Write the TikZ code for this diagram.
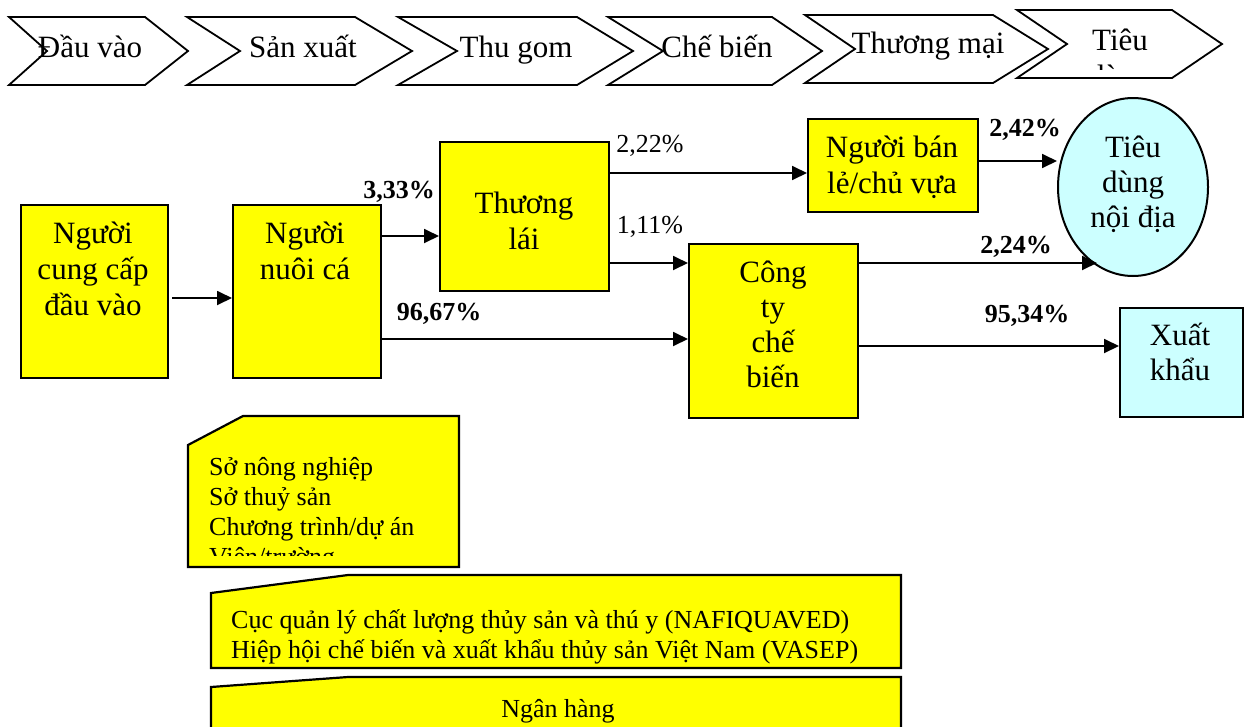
\documentclass[tikz,border=0pt]{standalone}
\usepackage{fontspec}
\setmainfont{Liberation Serif}
\usetikzlibrary{arrows.meta,shapes.geometric}
\definecolor{boxyellow}{HTML}{FFFF00}
\definecolor{paleaqua}{HTML}{CCFFFF}
% centred and left-aligned stacks of lines; the stack's baseline is its first line
\newcommand{\stacklines}[1]{\vtop{\halign{\hfil##\hfil\cr#1\crcr}}}
\newcommand{\leftlines}[1]{\vtop{\halign{##\hfil\cr#1\crcr}}}
\begin{document}
\begin{tikzpicture}[x=1pt,y=-1pt,
  chev/.style={draw, line width=1.8pt, line join=miter},
  ybox/.style={draw, line width=2.2pt, fill=boxyellow, inner sep=0pt, anchor=north west},
  bigtxt/.style={font=\fontsize{31}{36}\selectfont, inner sep=0pt, anchor=base},
  pct/.style={font=\fontsize{26}{30}\selectfont, inner sep=0pt, anchor=base},
  bpct/.style={font=\fontsize{26}{30}\selectfont\bfseries, inner sep=0pt, anchor=base},
  notetxt/.style={font=\fontsize{26}{30}\selectfont, inner sep=0pt},
  arr/.style={line width=1.8pt, -{Triangle[length=15pt,width=14pt]}},
  note/.style={draw, line width=2.2pt, fill=boxyellow, line join=miter}]
\useasboundingbox (0,0) rectangle (1244,726);

% ---- stage chevrons along the top
\draw[chev] (9,17) -- (145,17) -- (188,51) -- (145,85) -- (9,85) -- (47,51) -- cycle;
\draw[chev] (187,17) -- (355,17) -- (412,51) -- (355,85) -- (187,85) -- (240,51) -- cycle;
\draw[chev] (398,17) -- (577,17) -- (633,51) -- (577,85) -- (398,85) -- (457,51) -- cycle;
\draw[chev] (608,17) -- (772,17) -- (822,51) -- (772,85) -- (608,85) -- (663,51) -- cycle;
\draw[chev] (805,15) -- (993,15) -- (1048,49) -- (993,83) -- (805,83) -- (855,49) -- cycle;
\draw[chev] (1017,10) -- (1172,10) -- (1222,44) -- (1172,78) -- (1017,78) -- (1067,44) -- cycle;

\node[bigtxt] (s1) at (90,57) {Đầu vào};
\node[bigtxt] (s2) at (303,57) {Sản xuất};
\node[bigtxt] (s3) at (516,57) {Thu gom};
\node[bigtxt] (s4) at (717,57) {Chế biến};
\node[bigtxt] (s5) at (928,53) {Thương mại};
\begin{scope}
  \clip (1040,12) rectangle (1200,69);
  \node[bigtxt] (s6) at (1120,50) {\stacklines{Tiêu\cr dùng}};
\end{scope}

% ---- actors of the chain
\node[ybox, minimum width=147, minimum height=173] (A) at (20,204) {};
\node[ybox, minimum width=148, minimum height=173] (B) at (232,204) {};
\node[ybox, minimum width=169, minimum height=149] (TL) at (439,141) {};
\node[ybox, minimum width=170, minimum height=93] (BL) at (807,118) {};
\node[ybox, minimum width=169, minimum height=174] (CT) at (688,243) {};
\node[ybox, fill=paleaqua, minimum width=123, minimum height=109] (XK) at (1119,307) {};
\node[ellipse, draw, line width=2pt, fill=paleaqua, inner sep=0pt,
      minimum width=150, minimum height=178] (TD) at (1133,187) {};

\node[bigtxt] (tA) at (93,243) {\stacklines{Người\cr cung cấp\cr đầu vào}};
\node[bigtxt] (tB) at (305,243) {\stacklines{Người\cr nuôi cá}};
\node[bigtxt] (tTL) at (524,213) {\stacklines{Thương\cr lái}};
\node[bigtxt] (tBL) at (892,157) {\stacklines{Người bán\cr lẻ/chủ vựa}};
\node[bigtxt, font=\fontsize{31}{35.3}\selectfont] (tCT) at (773,282) {\stacklines{Công\cr ty\cr chế\cr biến}};
\node[bigtxt, font=\fontsize{31}{35}\selectfont] (tTD) at (1133,157) {\stacklines{Tiêu\cr dùng\cr nội địa}};
\node[bigtxt, font=\fontsize{31}{35}\selectfont] (tXK) at (1180,345) {\stacklines{Xuất\cr khẩu}};

% ---- flows
\coordinate (yAB) at (0,298);
\coordinate (yBTL) at (0,236);
\coordinate (yBCT) at (0,339);
\coordinate (yTLBL) at (0,173);
\coordinate (yTLCT) at (0,263);
\coordinate (yBLTD) at (0,161);
\coordinate (yCTXK) at (0,346);
\coordinate (tdLow) at (1097,263);

\draw[arr] ([xshift=3pt]A.east |- yAB) -- (B.west |- yAB);
\draw[arr] (B.east |- yBTL) -- (TL.west |- yBTL);
\draw[arr] (B.east |- yBCT) -- (CT.west |- yBCT);
\draw[arr] (TL.east |- yTLBL) -- (BL.west |- yTLBL);
\draw[arr] (TL.east |- yTLCT) -- (CT.west |- yTLCT);
\draw[arr] (BL.east |- yBLTD) -- (TD.west |- yBLTD);
\draw[arr] (CT.east |- tdLow) -- (tdLow);
\draw[arr] (CT.east |- yCTXK) -- (XK.west |- yCTXK);

\node[bpct] (p1) at (399,198) {3,33\%};
\node[pct]  (p2) at (650,152) {2,22\%};
\node[pct]  (p3) at (650,233) {1,11\%};
\node[bpct] (p4) at (439,320) {96,67\%};
\node[bpct] (p5) at (1025,136) {2,42\%};
\node[bpct] (p6) at (1016,253) {2,24\%};
\node[bpct] (p7) at (1027,322) {95,34\%};

% ---- supporting institutions
\draw[note] (188,445) -- (243,416) -- (459,416) -- (459,567) -- (188,567) -- cycle;
\begin{scope}
  \clip (190,418) rectangle (457,555);
  \node[notetxt, anchor=base west] (n1) at (209,475)
    {\leftlines{Sở nông nghiệp\cr Sở thuỷ sản\cr Chương trình/dự án\cr Viện/trường}};
\end{scope}

\draw[note] (211,593) -- (348,575) -- (901,575) -- (901,668) -- (211,668) -- cycle;
\node[notetxt, anchor=base west] (n2) at (231,628)
  {\leftlines{Cục quản lý chất lượng thủy sản và thú y (NAFIQUAVED)\cr
              Hiệp hội chế biến và xuất khẩu thủy sản Việt Nam (VASEP)}};

\draw[note] (211,687) -- (348,677) -- (901,677) -- (901,745) -- (211,745) -- cycle;
\node[notetxt, anchor=base] (n3) at (558,717) {Ngân hàng};

\end{tikzpicture}
\end{document}
